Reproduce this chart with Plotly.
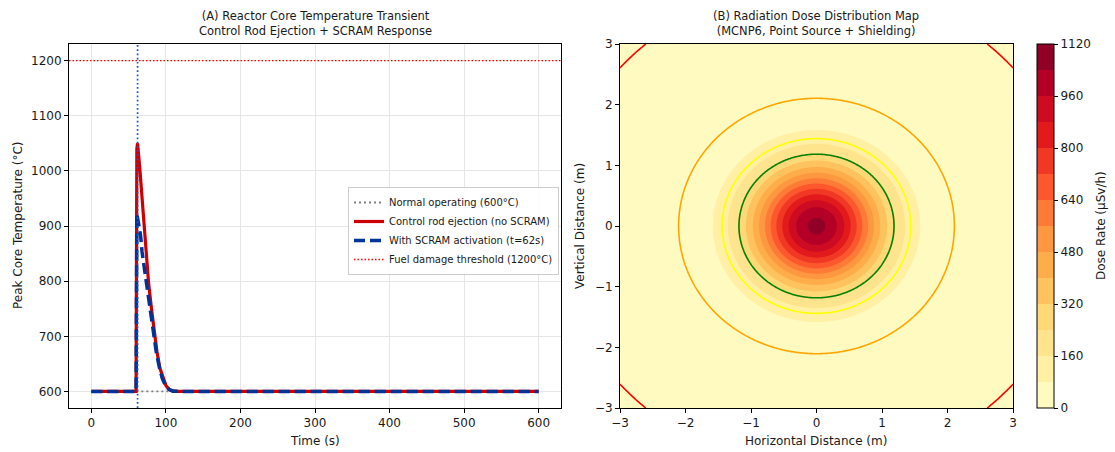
import numpy as np
import plotly.graph_objects as go

# ---------------- data ----------------
normal_t = [0, 600]
normal_T = [600, 600]

rod_t = [0, 60, 61, 62, 65, 68, 70.5, 74, 77, 81, 85, 88, 92, 96, 100, 104, 108, 115, 130, 600]
rod_T = [600, 600, 1040, 1050, 1004, 952, 914, 851, 793, 746, 702, 672, 642, 624, 611, 604, 601, 600, 600, 600]

scram_t = [0, 60, 61, 63, 66, 68, 71, 74, 77, 80, 84, 87, 91, 95, 99, 104, 110, 120, 600]
scram_T = [600, 600, 922, 905, 883, 853, 823, 793, 762, 732, 697, 672, 645, 624, 612, 604, 600.5, 600, 600]

scram_time = 62
damage_threshold = 1200

x_ticks_a = [0, 100, 200, 300, 400, 500, 600]
y_ticks_a = [600, 700, 800, 900, 1000, 1100, 1200]

# dose map model parameters (point source, Gaussian spread)
peak_dose = 1060.0
spread_r2 = 0.97
grid_x = np.linspace(-3, 3, 301)
grid_y = np.linspace(-3, 3, 301)
dose_levels_start, dose_levels_end, dose_levels_step = 0, 1120, 80
line_levels = [250.0, 125.0, 11.0, 9.0e-5]
line_colors = ["green", "yellow", "orange", "red"]
cbar_ticks = [0, 160, 320, 480, 640, 800, 960, 1120]
xy_ticks_b = [-3, -2, -1, 0, 1, 2, 3]

# ---------------- styling helpers ----------------
W, H = 1115, 452
def px_x(p): return p / W
def px_y(p): return 1 - p / H

ylorrd = ['#ffffcc', '#ffeda0', '#fed976', '#feb24c', '#fd8d3c',
          '#fc4e2a', '#e31a1c', '#bd0026', '#800026']
def hex2rgb(h):
    h = h.lstrip('#'); return [int(h[i:i+2], 16) for i in (0, 2, 4)]
def cmap(v):
    v = min(max(v, 0), 1) * (len(ylorrd) - 1)
    i = min(int(v), len(ylorrd) - 2); f = v - i
    a, b = hex2rgb(ylorrd[i]), hex2rgb(ylorrd[i + 1])
    c = [round(a[k] + (b[k] - a[k]) * f) for k in range(3)]
    return f"rgb({c[0]},{c[1]},{c[2]})"

nb = (dose_levels_end - dose_levels_start) // dose_levels_step
stepped = []
for i in range(nb):
    col = cmap((i + 0.5) / nb)
    stepped.append([i / nb, col])
    stepped.append([(i + 1) / nb, col])

FONT = "DejaVu Sans"
TXT = "#1a1a1a"

fig = go.Figure()

# ---------------- panel A ----------------
fig.add_trace(go.Scatter(x=normal_t, y=normal_T, mode="lines", name="Normal operating (600°C)",
                         line=dict(color="gray", width=1.8, dash="2px,3px"), xaxis="x", yaxis="y"))
fig.add_trace(go.Scatter(x=rod_t, y=rod_T, mode="lines", name="Control rod ejection (no SCRAM)",
                         line=dict(color="#cc0000", width=3.2), xaxis="x", yaxis="y"))
fig.add_trace(go.Scatter(x=scram_t, y=scram_T, mode="lines", name="With SCRAM activation (t=62s)",
                         line=dict(color="#003399", width=3.5, dash="11px,5px"), xaxis="x", yaxis="y"))
fig.add_trace(go.Scatter(x=[scram_time], y=[damage_threshold], mode="lines",
                         name="Fuel damage threshold (1200°C)",
                         line=dict(color="#ff0000", width=1.5, dash="1.5px,2px"), xaxis="x", yaxis="y"))

fig.add_shape(type="line", xref="x", yref="y domain", x0=scram_time, x1=scram_time, y0=0, y1=1,
              line=dict(color="#2350d0", width=1.7, dash="1.7px,2.5px"))
fig.add_shape(type="line", xref="x domain", yref="y", x0=0, x1=1, y0=damage_threshold, y1=damage_threshold,
              line=dict(color="#ff0000", width=1.2, dash="1.5px,2px"))

# ---------------- panel B ----------------
X, Y = np.meshgrid(grid_x, grid_y)
R2 = X**2 + Y**2
dose = peak_dose * np.exp(-R2 / spread_r2)

fig.add_trace(go.Contour(
    x=grid_x, y=grid_y, z=dose, xaxis="x2", yaxis="y2",
    colorscale=stepped, zmin=dose_levels_start, zmax=dose_levels_end,
    contours=dict(start=dose_levels_start, end=dose_levels_end, size=dose_levels_step,
                  coloring="fill", showlines=False),
    line=dict(width=0), showlegend=False, hoverinfo="skip",
    colorbar=dict(x=px_x(1037), xanchor="left", xpad=0, ypad=0, y=0.5, yanchor="middle",
                  lenmode="pixels", len=364, thickness=17, thicknessmode="pixels",
                  outlinecolor="black", outlinewidth=1,
                  tickvals=cbar_ticks, ticks="outside", ticklen=4, tickcolor="black",
                  tickfont=dict(family=FONT, size=12, color=TXT)),
))
for lvl, col in zip(line_levels, line_colors):
    fig.add_trace(go.Contour(
        x=grid_x, y=grid_y, z=dose, xaxis="x2", yaxis="y2",
        contours=dict(start=lvl, end=lvl, size=1, coloring="none"),
        line=dict(color=col, width=1.6), showscale=False, showlegend=False, hoverinfo="skip",
    ))

# ---------------- layout ----------------
axis_common = dict(showline=True, mirror=True, linecolor="black", linewidth=1,
                   ticks="outside", ticklen=4, tickcolor="black", automargin=False,
                   tickfont=dict(family=FONT, size=12, color=TXT), zeroline=False)

fig.update_layout(
    template="none",
    width=W, height=H, margin=dict(l=0, r=0, t=0, b=0, pad=0),
    paper_bgcolor="white", plot_bgcolor="white",
    font=dict(family=FONT, color=TXT),
    xaxis=dict(domain=[px_x(69), px_x(561)], range=[-30, 630], tickvals=x_ticks_a,
               showgrid=True, gridcolor="#e6e6e6", gridwidth=1, anchor="y", **axis_common),
    yaxis=dict(domain=[px_y(408), px_y(44)], range=[570, 1230], tickvals=y_ticks_a,
               showgrid=True, gridcolor="#e6e6e6", gridwidth=1, anchor="x", **axis_common),
    xaxis2=dict(domain=[px_x(620), px_x(1013)], range=[-3, 3], tickvals=xy_ticks_b,
                showgrid=False, anchor="y2", **axis_common),
    yaxis2=dict(domain=[px_y(408), px_y(44)], range=[-3, 3], tickvals=xy_ticks_b,
                showgrid=False, anchor="x2", **axis_common),
    legend=dict(x=px_x(348), y=px_y(187), xanchor="left", yanchor="top",
                bgcolor="rgba(255,255,255,0.85)", bordercolor="#cccccc", borderwidth=1,
                font=dict(family=FONT, size=10, color=TXT), tracegroupgap=0, itemwidth=30),
    showlegend=True,
)

def ann(text, x, y, size=12, angle=0, xanchor="center", yanchor="middle"):
    fig.add_annotation(text=text, x=x, y=y, xref="paper", yref="paper", showarrow=False,
                       textangle=angle, xanchor=xanchor, yanchor=yanchor,
                       font=dict(family=FONT, size=size, color=TXT))

ann("(A) Reactor Core Temperature Transient<br>Control Rod Ejection + SCRAM Response",
    px_x(315), px_y(24), size=11.5)
ann("(B) Radiation Dose Distribution Map<br>(MCNP6, Point Source + Shielding)",
    px_x(816), px_y(24), size=11.5)
ann("Time (s)", px_x(315), px_y(441))
ann("Horizontal Distance (m)", px_x(816), px_y(441))
ann("Peak Core Temperature (°C)", px_x(18), px_y(226), angle=-90)
ann("Vertical Distance (m)", px_x(580), px_y(226), angle=-90)
ann("Dose Rate (µSv/h)", px_x(1101), px_y(226), angle=-90)

fig.write_html("out.html", config={"displayModeBar": False},
               post_script="document.body.style.margin='0';document.body.style.overflow='hidden';")
